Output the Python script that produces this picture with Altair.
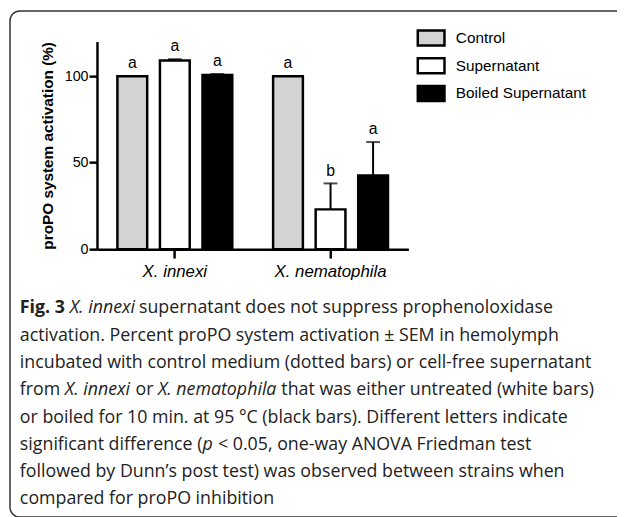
import altair as alt
import pandas as pd

# ---- data ----
strains = ["X. innexi", "X. innexi", "X. innexi",
           "X. nematophila", "X. nematophila", "X. nematophila"]
treatments = ["Control", "Supernatant", "Boiled Supernatant",
              "Control", "Supernatant", "Boiled Supernatant"]
means = [100.0, 109.0, 100.7, 100.0, 23.0, 42.6]
sems = [0.0, 0.8, 0.6, 0.0, 15.0, 19.3]
letters = ["a", "a", "a", "a", "b", "a"]

strain_order = ["X. innexi", "X. nematophila"]
treat_order = ["Control", "Supernatant", "Boiled Supernatant"]
treat_colors = ["#d3d3d3", "#ffffff", "#000000"]
y_ticks = [0, 50, 100]

caption_lines = [
    [("Fig. 3", "bold"), ("X. innexi", "italic"), ("supernatant does not suppress prophenoloxidase", "normal")],
    [("activation. Percent proPO system activation \u00b1 SEM in hemolymph", "normal")],
    [("incubated with control medium (dotted bars) or cell-free supernatant", "normal")],
    [("from", "normal"), ("X. innexi", "italic"), ("or", "normal"), ("X. nematophila", "italic"),
     ("that was either untreated (white bars)", "normal")],
    [("or boiled for 10 min. at 95 \u00b0C (black bars). Different letters indicate", "normal")],
    [("significant difference (", "normal"), ("p", "italic"), ("< 0.05, one-way ANOVA Friedman test", "normal")],
    [("followed by Dunn\u2019s post test) was observed between strains when", "normal")],
    [("compared for proPO inhibition", "normal")],
]
caption_offsets = [
    [0, 50.5, 120.5],
    [0],
    [0],
    [0, 45.5, 117, 139.7, 264.5],
    [0],
    [0, 184.7, 200.4],
    [0],
    [0],
]

df = pd.DataFrame({"strain": strains, "treatment": treatments,
                   "mean": means, "sem": sems, "letter": letters})

W, H = 315, 210
x_enc = alt.X("strain:N", sort=strain_order,
              scale=alt.Scale(paddingInner=0, paddingOuter=0),
              axis=alt.Axis(title=None, labelAngle=0, labelFontStyle="italic",
                            labelFontSize=17, labelFont="Liberation Sans",
                            labelColor="black", tickSize=9, tickWidth=2.5,
                            tickColor="black", domainColor="black", domainWidth=2.5,
                            labelPadding=6))
xoff = alt.XOffset("treatment:N", sort=treat_order,
                   scale=alt.Scale(paddingInner=0.3, paddingOuter=0.48))
y_scale = alt.Scale(domain=[0, 120], nice=False)

base = alt.Chart(df)

bars = base.mark_bar(stroke="black", strokeWidth=2.5, opacity=1).encode(
    x=x_enc, xOffset=xoff,
    y=alt.Y("mean:Q", scale=y_scale,
            axis=alt.Axis(values=y_ticks, title="proPO system activation (%)",
                          titleFontWeight="bold", titleFontSize=15.5,
                          titleFont="Liberation Sans", titleColor="black",
                          titlePadding=9, labelFontSize=14.5,
                          labelFont="Liberation Sans", labelColor="black",
                          tickSize=8, tickWidth=2.5, tickColor="black",
                          domainColor="black", domainWidth=2.5, grid=False,
                          labelPadding=1)),
    fill=alt.Fill("treatment:N", sort=treat_order,
                  scale=alt.Scale(domain=treat_order, range=treat_colors),
                  legend=alt.Legend(title=None, orient="none", legendX=323, legendY=-18.5,
                                    symbolType="M-1,-0.56L1,-0.56L1,0.56L-1,0.56Z",
                                    symbolSize=729, symbolStrokeColor="black",
                                    symbolStrokeWidth=2.5, symbolOpacity=1,
                                    labelFontSize=15.5, labelFont="Liberation Sans",
                                    labelColor="black", labelOffset=10, rowPadding=-2)),
)

err = base.transform_filter("datum.sem > 0").transform_calculate(
    top="datum.mean + datum.sem").mark_rule(color="black", strokeWidth=2).encode(
    x=alt.X("strain:N", sort=strain_order), xOffset=xoff,
    y=alt.Y("mean:Q", scale=y_scale), y2="top:Q")

caps = base.transform_filter("datum.sem > 0").transform_calculate(
    top="datum.mean + datum.sem").mark_tick(color="black", thickness=2, size=14,
                                            orient="horizontal").encode(
    x=alt.X("strain:N", sort=strain_order), xOffset=xoff,
    y=alt.Y("top:Q", scale=y_scale))

lbls = base.transform_calculate(top="datum.mean + datum.sem").mark_text(
    baseline="alphabetic", dy=-8, fontSize=16, font="Liberation Sans", color="black").encode(
    x=alt.X("strain:N", sort=strain_order), xOffset=xoff,
    y=alt.Y("top:Q", scale=y_scale), text="letter:N")

# frame around figure + caption (decoration, page coordinates relative to plot origin)
ox, oy = 98, 39
frame = alt.Chart(pd.DataFrame({"k": [0]})).mark_rect(
    fill=None, stroke="#333333", strokeWidth=1.5, cornerRadius=10).encode(
    x=alt.value(10 - ox), x2=alt.value(660 - ox),
    y=alt.value(8 - oy), y2=alt.value(520 - oy))

cap_layers = []
line_y0, line_dy, cap_x0 = 309, 27.6, 20
for i, (segs, offs) in enumerate(zip(caption_lines, caption_offsets)):
    for (txt, style), off in zip(segs, offs):
        kw = dict(align="left", baseline="middle", fontSize=18, font="Open Sans",
                  color="#222222")
        if style == "bold":
            kw["fontWeight"] = "bold"
        elif style == "italic":
            kw["fontStyle"] = "italic"
        cap_layers.append(
            alt.Chart(pd.DataFrame({"t": [txt]})).mark_text(**kw).encode(
                x=alt.value(cap_x0 + off - ox),
                y=alt.value(line_y0 + i * line_dy - oy),
                text="t:N"))

chart = alt.layer(bars, err, caps, lbls, frame, *cap_layers).properties(
    width=W, height=H,
    autosize=alt.AutoSizeParams(type="none"),
    padding={"left": ox - 8, "top": oy - 8, "right": 616 - (ox - 8) - W,
             "bottom": 509 - (oy - 8) - H},
).configure_view(stroke=None).configure_axis(grid=False)

chart.save("out.html", embed_options={"renderer": "svg", "actions": False})
